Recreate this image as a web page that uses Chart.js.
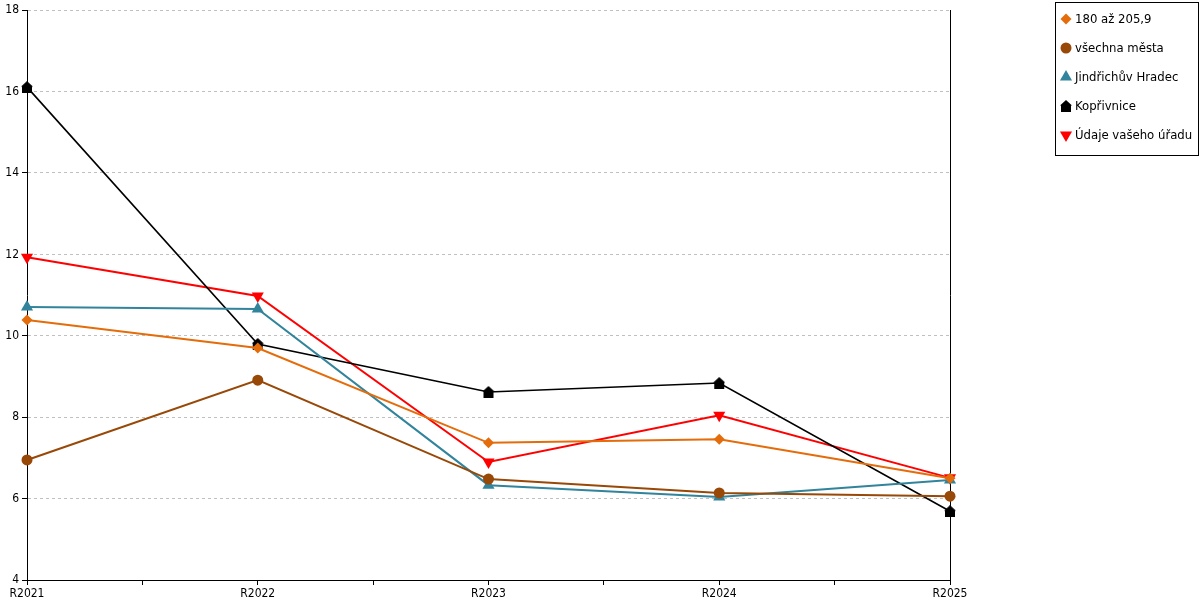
<!DOCTYPE html>
<html>
<head>
<meta charset="utf-8">
<script src="https://cdn.jsdelivr.net/npm/chart.js@4.4.1/dist/chart.umd.min.js"></script>
<style>
  html, body { margin: 0; padding: 0; background: #ffffff; }
  #wrap { width: 1200px; height: 600px; position: relative; }
</style>
</head>
<body>
<div id="wrap"><canvas id="c" width="1200" height="600"></canvas></div>
<script>
// ---- data ----
const categories = ['R2021', 'R2022', 'R2023', 'R2024', 'R2025'];
const seriesNames = ['180 až 205,9', 'všechna města', 'Jindřichův Hradec', 'Kopřivnice', 'Údaje vašeho úřadu'];
const vals180 = [10.39, 9.70, 7.37, 7.46, 6.50];
const valsAllCities = [6.95, 8.91, 6.48, 6.14, 6.06];
const valsJindrichuvHradec = [10.71, 10.66, 6.33, 6.04, 6.46];
const valsKoprivnice = [16.11, 9.80, 8.62, 8.84, 5.69];
const valsOffice = [11.93, 10.98, 6.90, 8.05, 6.51];
const yTicks = [4, 6, 8, 10, 12, 14, 16, 18];

// ---- styles ----
const FONT = '"DejaVu Sans Condensed", "DejaVu Sans"';
const colors = ['#E46C0A', '#984807', '#31849B', '#000000', '#FF0000'];

function houseMarker(color) {
  const c = document.createElement('canvas');
  c.width = 12; c.height = 12;
  const g = c.getContext('2d');
  g.fillStyle = color;
  g.beginPath();
  g.moveTo(6, 0);
  g.lineTo(12, 5.5);
  g.lineTo(11, 5.5);
  g.lineTo(11, 12);
  g.lineTo(1, 12);
  g.lineTo(1, 5.5);
  g.lineTo(0, 5.5);
  g.closePath();
  g.fill();
  return c;
}

const toXY = arr => arr.map((v, i) => ({ x: i, y: v }));

const allVals = [vals180, valsAllCities, valsJindrichuvHradec, valsKoprivnice, valsOffice];
const pointStyles = ['rectRot', 'circle', 'triangle', houseMarker('#000000'), 'triangle'];
const pointRadii = [5.5, 5.5, 7, 6, 7];
const rotations = [0, 0, 0, 0, 180];
const lineWidths = [2, 2, 2, 1.6, 2];

const datasets = allVals.map((vals, i) => ({
  label: seriesNames[i],
  data: toXY(vals),
  borderColor: colors[i],
  backgroundColor: colors[i],
  borderWidth: lineWidths[i],
  pointStyle: pointStyles[i],
  pointRadius: pointRadii[i],
  pointRotation: rotations[i],
  pointBorderWidth: 0,
  pointBackgroundColor: colors[i],
  pointBorderColor: colors[i],
  tension: 0,
  fill: false,
  clip: false
}));

const legendPlugin = {
  id: 'boxLegend',
  afterDraw(chart) {
    const ctx = chart.ctx;
    ctx.save();
    ctx.strokeStyle = '#000';
    ctx.lineWidth = 1;
    ctx.strokeRect(1055.5, 2.5, 143, 153);
    ctx.font = '13px ' + FONT;
    ctx.textBaseline = 'middle';
    ctx.textAlign = 'left';
    chart.data.datasets.forEach((ds, i) => {
      const y = 19 + i * 29;
      const x = 1066;
      ctx.fillStyle = ds.pointBackgroundColor;
      ctx.strokeStyle = ds.pointBorderColor;
      Chart.helpers.drawPoint(ctx, {
        pointStyle: ds.pointStyle,
        radius: ds.pointRadius,
        rotation: ds.pointRotation,
        borderWidth: 0
      }, x, y);
      ctx.fillStyle = '#000';
      ctx.fillText(ds.label, 1075, y + 1);
    });
    ctx.restore();
  }
};

new Chart(document.getElementById('c'), {
  type: 'line',
  data: { datasets },
  plugins: [legendPlugin],
  options: {
    responsive: false,
    animation: false,
    devicePixelRatio: 1,
    layout: { padding: { left: 0, right: 250, top: 10, bottom: 0 } },
    plugins: { legend: { display: false }, tooltip: { enabled: false } },
    scales: {
      x: {
        type: 'linear',
        min: 0,
        max: categories.length - 1,
        afterFit(scale) { scale.height = 20; },
        ticks: {
          stepSize: 0.5,
          autoSkip: false,
          maxRotation: 0,
          padding: 2,
          color: '#000',
          font: { family: FONT, size: 12 },
          callback: v => Number.isInteger(v) ? categories[v] : ''
        },
        grid: { drawOnChartArea: false, drawTicks: true, tickLength: 5, tickColor: '#000', tickWidth: 1 },
        border: { color: '#000', width: 1 }
      },
      y: {
        type: 'linear',
        position: 'left',
        min: yTicks[0],
        max: yTicks[yTicks.length - 1],
        afterFit(scale) { scale.width = 27; },
        afterBuildTicks(scale) { scale.ticks = yTicks.map(v => ({ value: v })); },
        ticks: {
          stepSize: 2,
          padding: 3,
          color: '#000',
          font: { family: FONT, size: 12 }
        },
        grid: { color: '#c0c0c0', lineWidth: 1, tickLength: 5, tickColor: '#000', tickBorderDash: [], tickWidth: 1 },
        border: { color: '#000', width: 1, dash: [3, 3] }
      },
      yR: {
        type: 'linear',
        position: 'right',
        min: yTicks[0],
        max: yTicks[yTicks.length - 1],
        afterFit(scale) { scale.width = 0; },
        ticks: { display: false },
        grid: { display: false },
        border: { color: '#000', width: 1 }
      }
    }
  }
});
</script>
</body>
</html>
